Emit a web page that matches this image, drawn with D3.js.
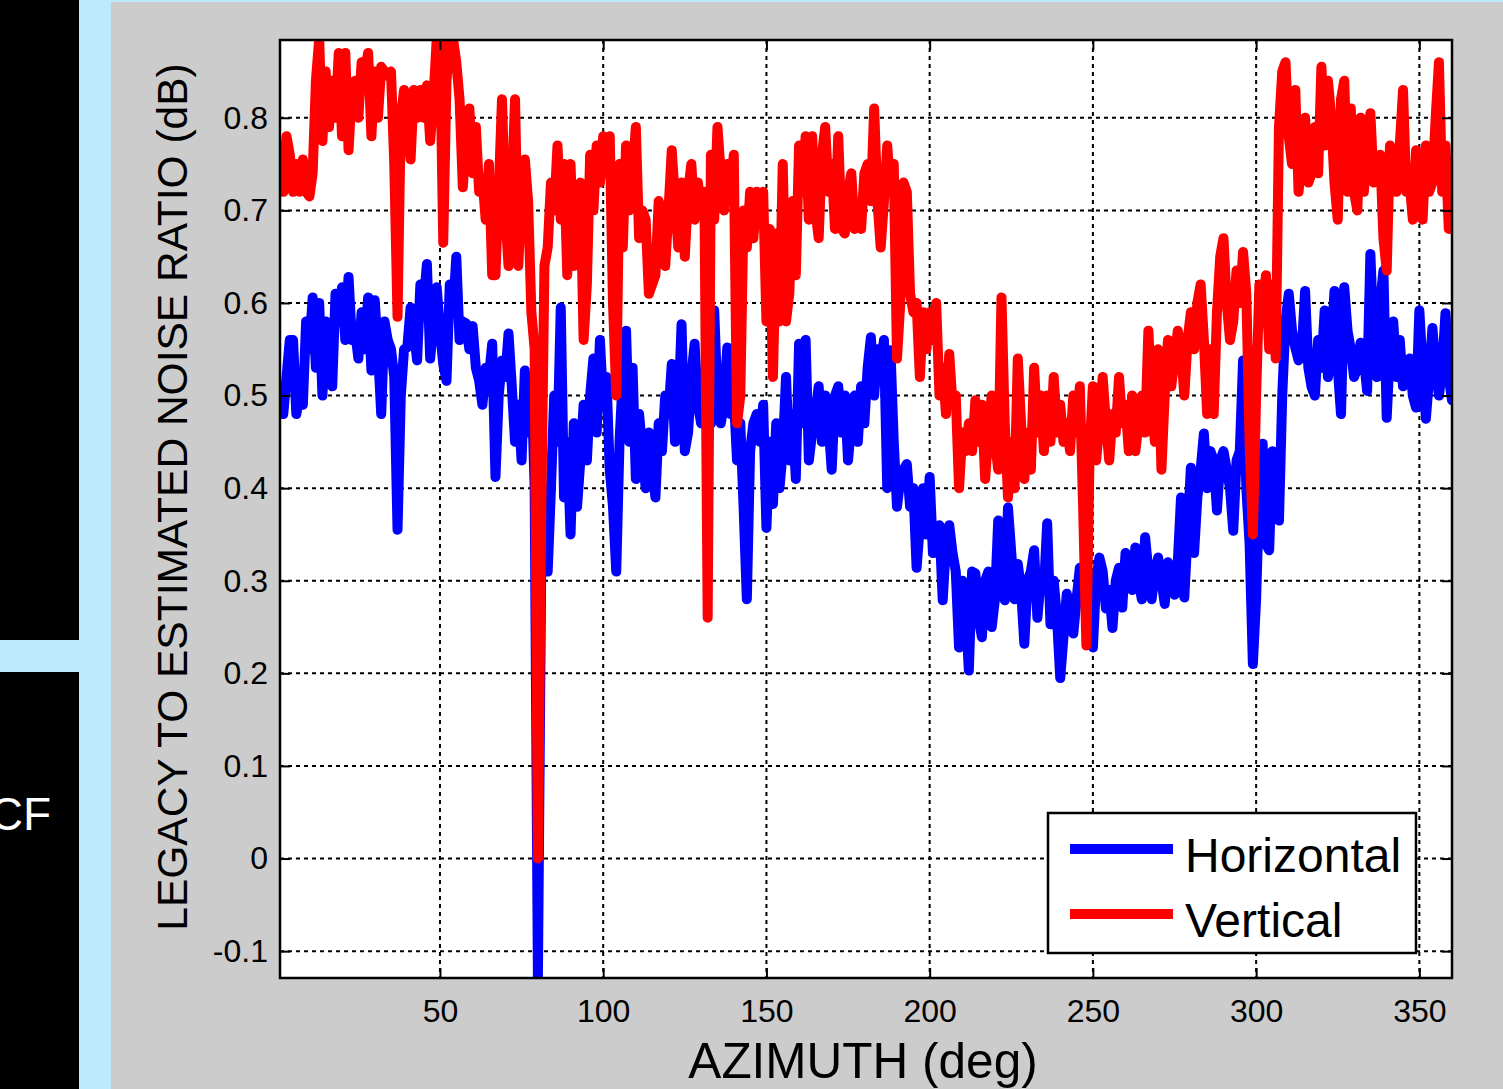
<!DOCTYPE html>
<html>
<head>
<meta charset="utf-8">
<script src="https://cdn.jsdelivr.net/npm/d3@7"></script>
<style>
  html, body { margin: 0; padding: 0; background: #bbebfd; }
  svg { display: block; }
</style>
</head>
<body>
<svg id="chart" width="1503" height="1089"></svg>
<script>
// Azimuth samples, one per degree
const azimuth = d3.range(1, 361);

// Legacy-to-estimated noise ratio (dB), horizontal polarisation
const horizontal = [
  0.50,0.48,0.52,0.56,0.56,0.48,0.50,0.49,0.58,0.55,
  0.606,0.53,0.60,0.50,0.58,0.55,0.51,0.61,0.58,0.617,
  0.56,0.628,0.56,0.57,0.54,0.59,0.55,0.606,0.527,0.603,
  0.55,0.48,0.58,0.56,0.55,0.52,0.355,0.50,0.55,0.552,
  0.595,0.57,0.538,0.62,0.60,0.642,0.54,0.58,0.617,0.57,
  0.534,0.516,0.62,0.59,0.65,0.56,0.58,0.578,0.55,0.575,
  0.53,0.516,0.49,0.53,0.52,0.556,0.412,0.50,0.538,0.52,
  0.567,0.51,0.45,0.49,0.43,0.527,0.46,0.52,0.40,-0.13,
  0.31,0.37,0.31,0.40,0.50,0.45,0.595,0.39,0.45,0.35,
  0.47,0.38,0.43,0.49,0.43,0.50,0.54,0.46,0.56,0.49,
  0.52,0.42,0.38,0.31,0.45,0.52,0.57,0.45,0.53,0.41,
  0.48,0.44,0.40,0.46,0.42,0.39,0.47,0.44,0.50,0.48,
  0.534,0.45,0.48,0.577,0.44,0.46,0.52,0.556,0.49,0.47,
  0.50,0.52,0.47,0.592,0.50,0.47,0.49,0.552,0.48,0.50,
  0.43,0.47,0.38,0.28,0.44,0.47,0.48,0.45,0.49,0.357,
  0.45,0.383,0.47,0.40,0.44,0.52,0.43,0.48,0.41,0.556,
  0.47,0.56,0.43,0.46,0.48,0.51,0.45,0.50,0.47,0.42,
  0.50,0.51,0.46,0.50,0.43,0.47,0.50,0.45,0.51,0.47,
  0.53,0.563,0.50,0.55,0.53,0.56,0.40,0.549,0.45,0.38,
  0.41,0.42,0.426,0.38,0.40,0.314,0.36,0.40,0.35,0.412,
  0.33,0.357,0.36,0.279,0.34,0.36,0.33,0.31,0.228,0.30,
  0.27,0.203,0.31,0.308,0.26,0.239,0.30,0.31,0.25,0.28,
  0.365,0.30,0.279,0.379,0.33,0.28,0.318,0.29,0.232,0.30,
  0.31,0.333,0.26,0.30,0.29,0.362,0.253,0.30,0.26,0.195,
  0.24,0.286,0.27,0.243,0.28,0.314,0.31,0.28,0.26,0.228,
  0.30,0.325,0.31,0.27,0.29,0.249,0.30,0.314,0.271,0.33,
  0.31,0.29,0.336,0.30,0.28,0.347,0.31,0.28,0.31,0.325,
  0.30,0.275,0.32,0.31,0.285,0.32,0.39,0.282,0.35,0.422,
  0.33,0.39,0.42,0.459,0.40,0.44,0.43,0.376,0.43,0.44,
  0.42,0.40,0.354,0.43,0.44,0.538,0.40,0.34,0.21,0.28,
  0.40,0.448,0.34,0.333,0.44,0.42,0.365,0.50,0.58,0.61,
  0.57,0.552,0.538,0.55,0.613,0.53,0.509,0.50,0.56,0.53,
  0.592,0.52,0.55,0.613,0.53,0.48,0.617,0.57,0.55,0.52,
  0.53,0.557,0.54,0.505,0.653,0.56,0.52,0.60,0.635,0.476,
  0.55,0.58,0.52,0.56,0.51,0.52,0.54,0.50,0.487,0.592,
  0.53,0.475,0.52,0.573,0.53,0.50,0.53,0.589,0.52,0.495
];

// Legacy-to-estimated noise ratio (dB), vertical polarisation
const vertical = [
  0.77,0.72,0.78,0.76,0.72,0.75,0.72,0.755,0.72,0.715,
  0.74,0.84,0.885,0.775,0.85,0.79,0.84,0.80,0.87,0.78,
  0.87,0.765,0.83,0.84,0.80,0.86,0.85,0.87,0.78,0.85,
  0.80,0.855,0.85,0.845,0.85,0.75,0.585,0.80,0.83,0.79,
  0.755,0.83,0.80,0.83,0.80,0.835,0.775,0.82,0.885,0.885,
  0.665,0.84,0.885,0.885,0.86,0.82,0.725,0.78,0.81,0.74,
  0.79,0.72,0.735,0.69,0.75,0.63,0.63,0.72,0.82,0.70,
  0.64,0.72,0.82,0.64,0.72,0.755,0.71,0.59,0.55,0.0,
  0.37,0.64,0.66,0.73,0.70,0.77,0.69,0.75,0.63,0.75,
  0.64,0.70,0.73,0.56,0.62,0.76,0.70,0.77,0.73,0.78,
  0.74,0.78,0.60,0.50,0.75,0.66,0.77,0.70,0.74,0.79,
  0.67,0.70,0.69,0.61,0.62,0.63,0.71,0.70,0.64,0.70,
  0.765,0.71,0.66,0.73,0.65,0.72,0.75,0.69,0.73,0.70,
  0.72,0.26,0.76,0.69,0.79,0.74,0.70,0.75,0.72,0.76,
  0.47,0.50,0.70,0.66,0.72,0.67,0.72,0.70,0.72,0.58,
  0.68,0.52,0.675,0.58,0.75,0.58,0.61,0.71,0.63,0.77,
  0.72,0.78,0.69,0.78,0.70,0.67,0.76,0.79,0.72,0.75,
  0.68,0.78,0.68,0.675,0.72,0.74,0.68,0.70,0.68,0.74,
  0.75,0.71,0.81,0.71,0.66,0.71,0.77,0.72,0.75,0.54,
  0.60,0.73,0.72,0.61,0.59,0.60,0.52,0.59,0.55,0.59,
  0.56,0.60,0.50,0.53,0.48,0.545,0.49,0.50,0.40,0.46,
  0.44,0.47,0.44,0.495,0.45,0.49,0.41,0.46,0.50,0.45,
  0.42,0.606,0.47,0.39,0.45,0.40,0.54,0.47,0.41,0.46,
  0.42,0.53,0.46,0.50,0.44,0.50,0.45,0.52,0.46,0.49,
  0.45,0.47,0.44,0.50,0.46,0.51,0.38,0.23,0.44,0.51,
  0.43,0.47,0.52,0.47,0.43,0.48,0.46,0.52,0.47,0.49,
  0.44,0.50,0.44,0.47,0.50,0.46,0.57,0.49,0.45,0.55,
  0.42,0.50,0.56,0.51,0.54,0.57,0.55,0.50,0.56,0.59,
  0.55,0.60,0.62,0.56,0.48,0.55,0.48,0.59,0.65,0.67,
  0.60,0.56,0.58,0.635,0.60,0.655,0.61,0.45,0.35,0.50,
  0.62,0.58,0.63,0.55,0.62,0.54,0.79,0.85,0.86,0.78,
  0.75,0.83,0.72,0.76,0.80,0.73,0.74,0.79,0.74,0.855,
  0.77,0.84,0.80,0.73,0.69,0.82,0.84,0.72,0.81,0.72,
  0.70,0.80,0.72,0.77,0.805,0.73,0.75,0.76,0.67,0.635,
  0.77,0.74,0.72,0.77,0.83,0.72,0.73,0.69,0.765,0.73,
  0.69,0.77,0.72,0.73,0.80,0.86,0.72,0.77,0.68,0.72
];

// Axis ticks and their labels
const xTicks = [50, 100, 150, 200, 250, 300, 350];
const xTickLabels = ["50", "100", "150", "200", "250", "300", "350"];
const yTicks = [-0.1, 0, 0.1, 0.2, 0.3, 0.4, 0.5, 0.6, 0.7, 0.8];
const yTickLabels = ["-0.1", "0", "0.1", "0.2", "0.3", "0.4", "0.5", "0.6", "0.7", "0.8"];

const seriesNames = ["Horizontal", "Vertical"];
const seriesColors = ["#0000ff", "#ff0000"];

const svg = d3.select("#chart");
const W = 1503, H = 1089;
const FONT = "'Liberation Sans', Arial, Helvetica, sans-serif";

// Page furniture: side panels and grey figure background
svg.append("rect").attr("x", 0).attr("y", 0).attr("width", W).attr("height", H).attr("fill", "#bbebfd");
svg.append("rect").attr("x", 0).attr("y", 0).attr("width", 79).attr("height", 640).attr("fill", "#000");
svg.append("rect").attr("x", 0).attr("y", 672).attr("width", 79).attr("height", H - 672).attr("fill", "#000");
svg.append("text").attr("x", 51).attr("y", 830).attr("text-anchor", "end")
  .attr("font-family", FONT).attr("font-size", 46).attr("fill", "#fff").text("CF");
svg.append("rect").attr("x", 111).attr("y", 2).attr("width", W - 111).attr("height", H - 2).attr("fill", "#cccccc");

// Plot area
const L = 280, R = 1452, T = 40, B = 978;
const x = d3.scaleLinear().domain([1, 360]).range([L, R]);
const y = d3.scaleLinear().domain([-0.129, 0.884]).range([B, T]);

svg.append("rect").attr("x", L).attr("y", T).attr("width", R - L).attr("height", B - T).attr("fill", "#fff");

// Dotted grid
const grid = svg.append("g").attr("stroke", "#000").attr("stroke-width", 2).attr("stroke-dasharray", "4,4");
grid.selectAll("line.gx").data(xTicks).join("line")
  .attr("x1", d => x(d)).attr("x2", d => x(d)).attr("y1", T).attr("y2", B);
grid.selectAll("line.gy").data(yTicks).join("line")
  .attr("x1", L).attr("x2", R).attr("y1", d => y(d)).attr("y2", d => y(d));

// Data lines
const clipId = "plotClip";
svg.append("clipPath").attr("id", clipId).append("rect")
  .attr("x", L).attr("y", T).attr("width", R - L).attr("height", B - T);

const line = d3.line().x((d, i) => x(azimuth[i])).y(d => y(d));
const lines = svg.append("g").attr("clip-path", `url(#${clipId})`);
[horizontal, vertical].forEach((s, k) => {
  lines.append("path").datum(s)
    .attr("d", line)
    .attr("fill", "none")
    .attr("stroke", seriesColors[k])
    .attr("stroke-width", 10)
    .attr("stroke-linejoin", "round")
    .attr("stroke-linecap", "round");
});

// Axes with inward ticks
const tickStyle = g => {
  g.select(".domain").remove();
  g.selectAll(".tick line").attr("stroke", "#000").attr("stroke-width", 2);
  g.selectAll(".tick text").attr("fill", "#000").attr("font-family", FONT).attr("font-size", 32);
};
svg.append("g").attr("transform", `translate(0,${B})`)
  .call(d3.axisBottom(x).tickValues(xTicks).tickSize(-10).tickPadding(21)
    .tickFormat((d, i) => xTickLabels[i]))
  .call(tickStyle);
svg.append("g").attr("transform", `translate(0,${T})`)
  .call(d3.axisTop(x).tickValues(xTicks).tickSize(-10).tickFormat(""))
  .call(tickStyle);
svg.append("g").attr("transform", `translate(${L},0)`)
  .call(d3.axisLeft(y).tickValues(yTicks).tickSize(-10).tickPadding(12)
    .tickFormat((d, i) => yTickLabels[i]))
  .call(tickStyle);
svg.append("g").attr("transform", `translate(${R},0)`)
  .call(d3.axisRight(y).tickValues(yTicks).tickSize(-10).tickFormat(""))
  .call(tickStyle);

// Frame
svg.append("rect").attr("x", L).attr("y", T).attr("width", R - L).attr("height", B - T)
  .attr("fill", "none").attr("stroke", "#000").attr("stroke-width", 2.5);

// Axis titles
svg.append("text")
  .attr("x", (L + R) / 2 - 3).attr("y", 1078)
  .attr("text-anchor", "middle").attr("font-family", FONT).attr("font-size", 49.5).attr("fill", "#000")
  .text("AZIMUTH (deg)");
svg.append("text")
  .attr("transform", "translate(187,497) rotate(-90)")
  .attr("text-anchor", "middle").attr("font-family", FONT).attr("font-size", 42.5).attr("fill", "#000")
  .text("LEGACY TO ESTIMATED NOISE RATIO (dB)");

// Legend
const lg = svg.append("g");
lg.append("rect").attr("x", 1048).attr("y", 813).attr("width", 368).attr("height", 140)
  .attr("fill", "#fff").attr("stroke", "#000").attr("stroke-width", 2.5);
seriesNames.forEach((name, k) => {
  const cy = 849 + k * 65;
  lg.append("line").attr("x1", 1070).attr("x2", 1173).attr("y1", cy).attr("y2", cy)
    .attr("stroke", seriesColors[k]).attr("stroke-width", 10);
  lg.append("text").attr("x", 1185).attr("y", cy + 23)
    .attr("font-family", FONT).attr("font-size", 48).attr("fill", "#000").text(name);
});
</script>
</body>
</html>
